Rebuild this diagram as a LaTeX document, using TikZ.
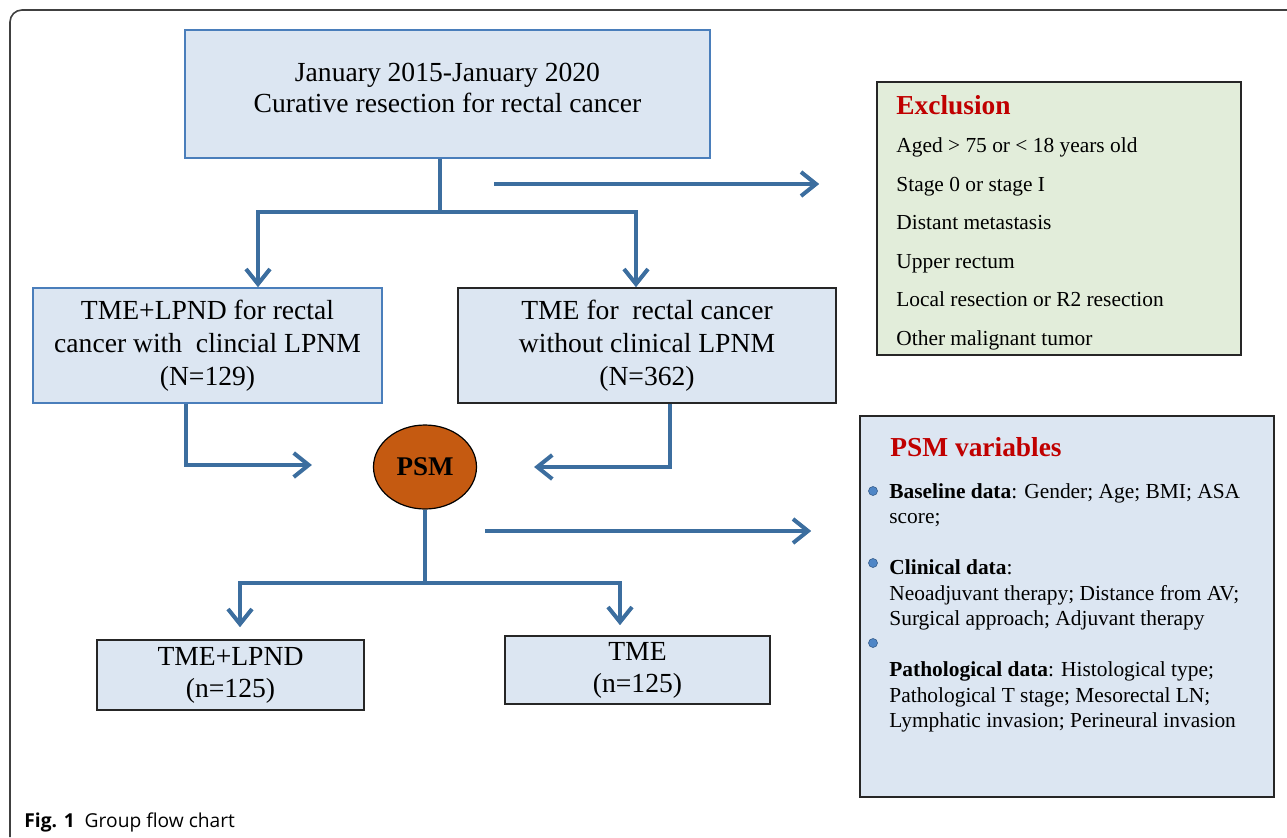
\documentclass[tikz,border=0pt]{standalone}
\usepackage{fontspec}
\setmainfont{Liberation Serif}
\newfontfamily\capfont{Open Sans}
\usetikzlibrary{shapes.geometric,arrows.meta}

\definecolor{flowblue}{HTML}{3C6E9F}
\definecolor{boxfill}{HTML}{DCE6F2}
\definecolor{boxblue}{HTML}{4A7EBB}
\definecolor{exfill}{HTML}{E2EDDA}
\definecolor{psmfill}{HTML}{C55A11}
\definecolor{titlered}{HTML}{C00000}
\definecolor{dotblue}{HTML}{4F86C6}

\begin{document}
\begin{tikzpicture}[x=0.5pt, y=-0.5pt,
  every node/.style={font=\fontsize{13.8}{16.5}\selectfont},
  stepbox/.style={draw=boxblue, line width=0.8pt, fill=boxfill, align=center, inner sep=0pt},
  darkbox/.style={stepbox, draw=black!85},
  flowline/.style={draw=flowblue, line width=2pt},
  flowarrow/.style={flowline, -{Straight Barb[length=7.5pt, width=12pt]}},
  flowboth/.style={flowline, {Straight Barb[length=7.5pt, width=12pt]}-{Straight Barb[length=7.5pt, width=12pt]}}]
\useasboundingbox (0,0) rectangle (1287,837);

% page frame and caption
\draw[black!75, line width=0.8pt, rounded corners=6pt] (10,837) -- (10,10) -- (1287,10);
\node[anchor=base west, font=\capfont\fontsize{9.6}{11}\selectfont, inner sep=0pt] (caption) at (24,827) {\textbf{Fig. 1}\hspace{5pt}Group flow chart};

% boxes of the flow
\node[stepbox, minimum width=262.5pt, minimum height=64pt, font=\fontsize{13.8}{15.5}\selectfont] (top) at (447.5,94)
  {January 2015-January 2020\\Curative resection for rectal cancer\\[-9.5pt]};
\node[stepbox, minimum width=174.5pt, minimum height=57.5pt] (left) at (207.5,345.5)
  {TME+LPND for rectal\\cancer with\ \ clincial LPNM\\(N=129)};
\node[darkbox, minimum width=189pt, minimum height=57.5pt] (right) at (647,345.5)
  {TME for\ \ rectal cancer\\without clinical LPNM\\(N=362)};
\node[ellipse, draw=black, line width=0.6pt, fill=psmfill, minimum width=51.5pt, minimum height=42pt,
  inner sep=0pt, font=\fontsize{13.5}{15}\selectfont\bfseries] (psm) at (425,467) {PSM};
\node[darkbox, minimum width=133.5pt, minimum height=35pt, font=\fontsize{13.8}{16}\selectfont] (lpnd) at (230.5,675)
  {TME+LPND\\(n=125)};
\node[darkbox, minimum width=132.5pt, minimum height=34pt, font=\fontsize{13.8}{16}\selectfont] (tme) at (637.5,670)
  {TME\\(n=125)};

% exclusion box
\node[darkbox, fill=exfill, minimum width=182pt, minimum height=136.5pt] (excl) at (1059,218.5) {};
\node[anchor=north west, align=left, inner sep=0pt, font=\fontsize{10.7}{19.25}\selectfont] (exlist) at (896,95)
  {{\fontsize{13.7}{15}\selectfont\bfseries\color{titlered}Exclusion}\\
   Aged > 75 or < 18 years old\\
   Stage 0 or stage I\\
   Distant metastasis\\
   Upper rectum\\
   Local resection or R2 resection\\
   Other malignant tumor};

% PSM variables box
\node[darkbox, minimum width=207pt, minimum height=190.5pt] (vars) at (1067,606.5) {};
\node[anchor=base west, inner sep=0pt, font=\fontsize{13.7}{15}\selectfont\bfseries, text=titlered] (varstitle) at (890,456) {PSM variables};
\node[anchor=north west, align=left, inner sep=0pt, font=\fontsize{10.7}{12.75}\selectfont] (varlist) at (889,483)
  {\textbf{Baseline data}: Gender; Age; BMI; ASA\\
   score;\\[12.75pt]
   \textbf{Clinical data}:\\
   Neoadjuvant therapy; Distance from AV;\\
   Surgical approach; Adjuvant therapy\\[12.75pt]
   \textbf{Pathological data}: Histological type;\\
   Pathological T stage; Mesorectal LN;\\
   Lymphatic invasion; Perineural invasion};
\foreach \name/\y in {dota/491, dotb/563, dotc/643} {
  \node[circle, fill=dotblue, draw=dotblue!70!black, line width=0.3pt, inner sep=0pt, minimum size=4.5pt] (\name) at (873,\y) {};
}

% connectors
\coordinate (fork) at (440,212);
\coordinate (forkL) at (258,212);
\coordinate (forkR) at (636,212);
\draw[flowline] (fork |- top.south) -- (fork);
\draw[flowboth] (forkL |- left.north) -- (forkL) -- (forkR) -- (forkR |- right.north);

\coordinate (exA) at (494,184);
\draw[flowarrow, shorten >=28.5pt] (exA) -- (exA -| excl.west);

\coordinate (lA) at (186,465);
\coordinate (rA) at (670,467);
\draw[flowarrow, shorten >=30.5pt] (lA |- left.south) -- (lA) -- (lA -| psm.west);
\draw[flowarrow, shorten >=28.5pt] (rA |- right.south) -- (rA) -- (psm.east);

\coordinate (varA) at (485,531);
\draw[flowarrow, shorten >=24pt] (varA) -- (varA -| vars.west);

\coordinate (bL) at (240,583);
\coordinate (bR) at (620,583);
\draw[flowline] (psm.south) -- (psm.south |- bL);
\draw[flowboth, shorten <=6pt, shorten >=5pt] (bL |- lpnd.north) -- (bL) -- (bR) -- (bR |- tme.north);

\end{tikzpicture}
\end{document}
